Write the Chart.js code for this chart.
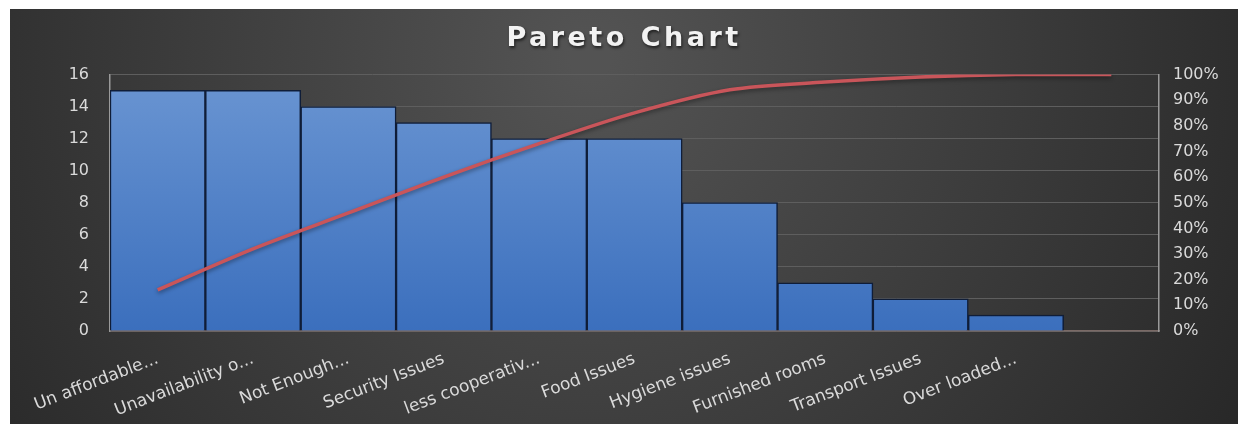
<!DOCTYPE html>
<html>
<head>
<meta charset="utf-8">
<script src="https://cdn.jsdelivr.net/npm/chart.js@4"></script>
<style>
  html, body { margin: 0; padding: 0; background: #fff; }
  #wrap { position: absolute; left: 10px; top: 9px; width: 1228px; height: 415px; }
</style>
</head>
<body>
<div id="wrap"><canvas id="pareto"></canvas></div>
<script>
// ---- data ----
const categories = ["Un affordable...", "Unavailability o...", "Not Enough...", "Security Issues",
    "less cooperativ...", "Food Issues", "Hygiene issues", "Furnished rooms", "Transport Issues",
    "Over loaded...", ""];
const counts = [15, 15, 14, 13, 12, 12, 8, 3, 2, 1, null];
const cumulativePct = [16, 32, 46, 60, 73, 85, 94, 97, 99, 100, 100];
const countTicks = [0, 2, 4, 6, 8, 10, 12, 14, 16];
const pctTicks = [0, 10, 20, 30, 40, 50, 60, 70, 80, 90, 100];

const tickColor = "#dadada";
const yFont = { family: "DejaVu Sans", size: 16 };
const xFont = { family: "DejaVu Sans", size: 17 };

// dark excel-style background
const bgPlugin = {
    id: "bg",
    beforeDraw(chart) {
        const { ctx, width, height } = chart;
        const g = ctx.createRadialGradient(580, 50, 20, 580, 50, 760);
        g.addColorStop(0, "#535353");
        g.addColorStop(1, "#272727");
        ctx.save();
        ctx.fillStyle = g;
        ctx.fillRect(0, 0, width, height);
        ctx.restore();
    }
};

// soft shadow under the red line
const shadowPlugin = {
    id: "lineShadow",
    beforeDatasetDraw(chart, args) {
        if (args.meta.type !== "line") return;
        const ctx = chart.ctx;
        ctx.save();
        ctx.shadowColor = "rgba(0,0,0,0.4)";
        ctx.shadowBlur = 4;
        ctx.shadowOffsetY = 2;
    },
    afterDatasetDraw(chart, args) {
        if (args.meta.type !== "line") return;
        chart.ctx.restore();
    }
};

function barFill(context) {
    const area = context.chart.chartArea;
    if (!area) return "#4f81bd";
    const g = context.chart.ctx.createLinearGradient(0, area.top, 0, area.bottom);
    g.addColorStop(0, "#6a95d2");
    g.addColorStop(1, "#3b6fbd");
    return g;
}

const ctx = document.getElementById("pareto");
const chart = new Chart(ctx, {
    data: {
        labels: categories,
        datasets: [{
            type: "line",
            label: "Cumulative %",
            data: cumulativePct,
            yAxisID: "y2",
            borderColor: "#c9555a",
            borderWidth: 3.5,
            pointRadius: 0,
            tension: 0.3,
            order: 1
        }, {
            type: "bar",
            label: "Count",
            data: counts,
            yAxisID: "y",
            backgroundColor: barFill,
            borderColor: "#0f1d38",
            borderWidth: 1.5,
            categoryPercentage: 1,
            barPercentage: 1,
            order: 2
        }]
    },
    options: {
        responsive: true,
        maintainAspectRatio: false,
        animation: false,
        layout: { padding: 0 },
        plugins: {
            legend: { display: false },
            tooltip: { enabled: false },
            title: {
                display: true,
                text: "Pareto Chart",
                color: "#f2f2f2",
                font: { family: "DejaVu Sans", size: 27, weight: "bold" },
                padding: { top: 14, bottom: 19 }
            }
        },
        scales: {
            x: {
                offset: true,
                grid: { display: false, drawTicks: false },
                border: { color: "#7a6a66", width: 1.5 },
                ticks: {
                    color: tickColor,
                    font: xFont,
                    autoSkip: false,
                    minRotation: 21,
                    maxRotation: 21,
                    padding: 18
                },
                afterFit(scale) { scale.height = 93; }
            },
            y: {
                position: "left",
                min: 0,
                max: 16,
                afterBuildTicks(scale) { scale.ticks = countTicks.map(v => ({ value: v })); },
                grid: { color: "#5e5e5e", lineWidth: 1, drawTicks: false },
                border: { color: "#9a9a9a", width: 1.5 },
                ticks: { color: tickColor, font: yFont, padding: 21 },
                afterFit(scale) { scale.width = 100; }
            },
            y2: {
                position: "right",
                min: 0,
                max: 100,
                afterBuildTicks(scale) { scale.ticks = pctTicks.map(v => ({ value: v })); },
                grid: { display: false, drawTicks: false },
                border: { color: "#9a9a9a", width: 1.5 },
                ticks: {
                    color: tickColor,
                    font: yFont,
                    padding: 14,
                    callback: v => v + "%"
                },
                afterFit(scale) { scale.width = 79; }
            }
        }
    },
    plugins: [bgPlugin, shadowPlugin]
});

// wider letter spacing + shadow on the title, like the excel style
if (chart.titleBlock) {
    const tb = chart.titleBlock;
    const origDraw = tb.draw.bind(tb);
    tb.draw = function () {
        const c = chart.ctx;
        c.save();
        c.letterSpacing = "3.5px";
        c.shadowColor = "rgba(0,0,0,0.6)";
        c.shadowBlur = 3;
        c.shadowOffsetX = 1;
        c.shadowOffsetY = 2;
        origDraw();
        c.restore();
    };
    chart.draw();
}
</script>
</body>
</html>
